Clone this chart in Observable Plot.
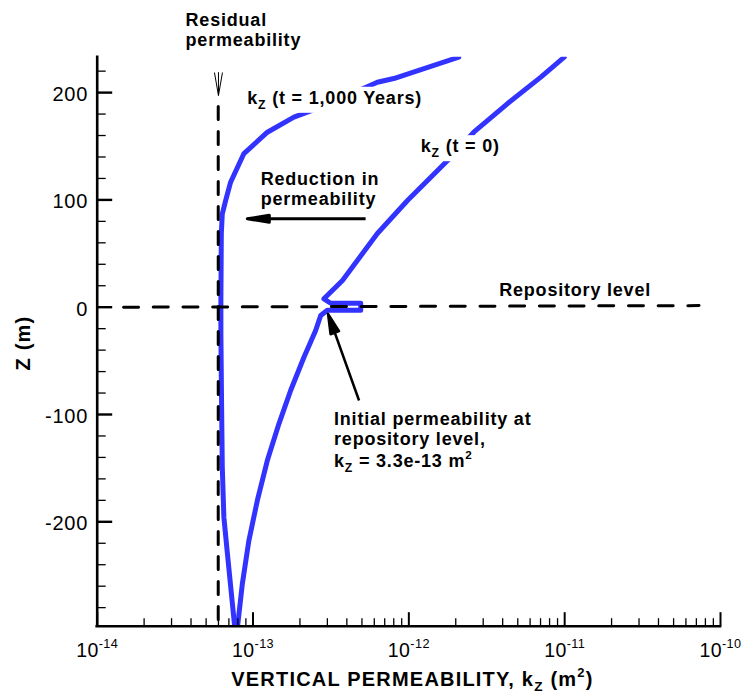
<!DOCTYPE html>
<html><head><meta charset="utf-8">
<script src="https://cdn.jsdelivr.net/npm/d3@7"></script>
<script src="https://cdn.jsdelivr.net/npm/@observablehq/plot@0.6"></script>
<style>
body{margin:0;background:#fff;}
#chart svg{display:block;}
text[aria-label="ann"], text[aria-label="boxed"] {letter-spacing:0.8px;}
text[aria-label="yticklabel"] {letter-spacing:0.8px;}
text[aria-label="xticklabel"] {letter-spacing:0.4px;}
text[aria-label="title"], text[aria-label="ylabel"] {letter-spacing:1.2px;}
</style></head><body><div id="chart"></div>
<script>
// ---- data ----
const xDomain = [1e-14, 1e-10];
const zDomain = [-297.3, 233];

// k_z at t = 0
const kInitial = [7.96e-14, 8.54e-14, 9.41e-14, 1.066e-13, 1.235e-13, 1.466e-13, 1.743e-13, 2.122e-13, 2.523e-13, 2.718e-13, 3.0e-13, 4.91e-13, 4.91e-13, 3.15e-13, 2.85e-13, 3.75e-13, 6.28e-13, 9.8e-13, 1.86e-12, 2.61e-12, 4.3e-12, 7.03e-12, 9.93e-12];
const zInitial = [-297.3, -257.8, -217.4, -180.1, -142.9, -108.7, -77.6, -46.6, -21.7, -7.7, -2.9, -2.9, 3.7, 3.7, 7.8, 24.9, 68.7, 99.4, 139.8, 163.1, 189.8, 214.4, 233];

// k_z at t = 1,000 years
const kFinal = [7.62e-14, 6.84e-14, 6.5e-14, 6.35e-14, 6.28e-14, 6.22e-14, 6.22e-14, 6.26e-14, 6.35e-14, 6.67e-14, 7.18e-14, 8.74e-14, 1.236e-13, 1.83e-13, 2.72e-13, 6.28e-13, 8.0e-13, 2.09e-12];
const zFinal = [-297.3, -228.8, -195.7, -149.1, -87, -24.5, 6.2, 68.7, 87, 99.4, 116.5, 143.2, 163.1, 177.1, 186.4, 209.7, 213.1, 233];

// residual permeability (vertical dashed) and repository level (horizontal dashed)
const residualK = [5.98e-14, 5.98e-14];
const residualZ = [187, -297.3];
const repoK = [1.476e-14, 7.28e-11];
const repoZ = [0, 1.5];

// ticks
const xMajorTicks = [1e-14, 1e-13, 1e-12, 1e-11, 1e-10];
const xTickLabels = ["10^{-14}", "10^{-13}", "10^{-12}", "10^{-11}", "10^{-10}"];
const xMinorTicks = [2e-14,3e-14,4e-14,5e-14,6e-14,7e-14,8e-14,9e-14,
                     2e-13,3e-13,4e-13,5e-13,6e-13,7e-13,8e-13,9e-13,
                     2e-12,3e-12,4e-12,5e-12,6e-12,7e-12,8e-12,9e-12,
                     2e-11,3e-11,4e-11,5e-11,6e-11,7e-11,8e-11,9e-11];
const yMajorTicks = [-200, -100, 0, 100, 200];
const yTickLabels = ["-200", "-100", "0", "100", "200"];
const yMinorTicks = [-280,-260,-240,-220,-180,-160,-140,-120,-80,-60,-40,-20,20,40,60,80,120,140,160,180,220];

// annotation text lines
const annText = ["Residual", "permeability", "Reduction in", "permeability", "Repository level", "Initial permeability at", "repository level,", "k_{Z} = 3.3e-13 m^{2}"];
const annK    = [3.69e-14, 3.69e-14, 1.119e-13, 1.119e-13, 3.80e-12, 3.31e-13, 3.31e-13, 3.31e-13];
const annZ    = [262.5, 243.9, 114.3, 94.8, 10.9, -109.4, -128.5, -148.5];
const boxedText = ["k_{Z} (t = 1,000 Years)", "k_{Z} (t = 0)"];
const boxedK = [9.19e-14, 1.192e-12];
const boxedZ = [189.6, 144.5];

// arrows: tip position, length (px), rotation (deg)
const arrowK = [9.19e-14, 3.03e-13, 6e-14];
const arrowZ = [82.4, -6.2, 197.3];
const arrowLen = [118.3, 92, 23.3];
const arrowRot = [-90, -19.7, 180];

const xTitle = "VERTICAL PERMEABILITY, k_{Z} (m^{2})";
const yTitle = "Z (m)";

// ---- build ----
const W = 743, H = 696;
const blue = "#3333ff";
const font = '"Liberation Sans", Arial, Helvetica, sans-serif';
const rows = (ks, zs) => ks.map((k, i) => ({k, z: zs[i]}));
const tag = (name) => () => name;

const tickShape = {draw(ctx, l) { ctx.moveTo(0, 0); ctx.lineTo(0, -l); }};
function arrowShape(hl, hw, filled) {
  return {draw(ctx, l) {
    if (filled) {
      ctx.moveTo(0, 0); ctx.lineTo(0, -l + hl * 0.7);
      ctx.moveTo(0, -l); ctx.lineTo(-hw, -l + hl); ctx.lineTo(hw, -l + hl); ctx.closePath();
    } else {
      ctx.moveTo(0, 0); ctx.lineTo(0, -l);
      ctx.moveTo(-hw, -l + hl); ctx.lineTo(0, -l); ctx.lineTo(hw, -l + hl);
    }
  }};
}
const arrowStyles = [
  {shape: arrowShape(22, 3.5, true), strokeWidth: 3, fill: "black"},
  {shape: arrowShape(20, 4.5, true), strokeWidth: 2.5, fill: "black"},
  {shape: arrowShape(23, 4, false), strokeWidth: 1, fill: "none"}
];
const arrowMarks = arrowK.map((k, i) => Plot.vector([{k, z: arrowZ[i]}], {
  x: "k", y: "z", length: arrowLen[i], rotate: arrowRot[i], anchor: "end",
  stroke: "black", strokeLinejoin: "round", strokeLinecap: "butt", ...arrowStyles[i]
}));

const y0 = () => zDomain[0];
const x0 = () => xDomain[0];

const chart = Plot.plot({
  width: W, height: H,
  marginLeft: 96.7, marginRight: 23, marginTop: 56.7, marginBottom: 70.3,
  x: {type: "log", domain: xDomain, axis: null},
  y: {domain: zDomain, axis: null},
  style: {background: "white", color: "black", fontFamily: font, overflow: "visible"},
  marks: [
    Plot.line(rows(kInitial, zInitial), {x: "k", y: "z", stroke: blue, strokeWidth: 5, strokeLinejoin: "round", clip: true}),
    Plot.line(rows(kFinal, zFinal), {x: "k", y: "z", stroke: blue, strokeWidth: 5, strokeLinejoin: "round", clip: true}),
    Plot.line(rows(repoK, repoZ), {x: "k", y: "z", stroke: "black", strokeWidth: 3, strokeDasharray: "15,14.7"}),
    Plot.line(rows(residualK, residualZ), {x: "k", y: "z", stroke: "black", strokeWidth: 3, strokeDasharray: "13,12"}),
    // axes lines
    Plot.ruleX([xDomain[0]], {stroke: "black", strokeWidth: 2.6, strokeLinecap: "square"}),
    Plot.ruleY([zDomain[0]], {stroke: "black", strokeWidth: 2.6, strokeLinecap: "square"}),
    // ticks (inward)
    Plot.vector(xMajorTicks, {x: d => d, y: y0, length: 14, rotate: 0, anchor: "start", shape: tickShape, stroke: "black", strokeWidth: 2, strokeLinecap: "butt"}),
    Plot.vector(xMinorTicks, {x: d => d, y: y0, length: 8, rotate: 0, anchor: "start", shape: tickShape, stroke: "black", strokeWidth: 1.3, strokeLinecap: "butt"}),
    Plot.vector(yMajorTicks, {x: x0, y: d => d, length: 15, rotate: 90, anchor: "start", shape: tickShape, stroke: "black", strokeWidth: 2.4, strokeLinecap: "butt"}),
    Plot.vector(yMinorTicks, {x: x0, y: d => d, length: 8.5, rotate: 90, anchor: "start", shape: tickShape, stroke: "black", strokeWidth: 1.3, strokeLinecap: "butt"}),
    // tick labels
    Plot.text(xMajorTicks, {x: d => d, y: y0, text: (d, i) => xTickLabels[i], dy: 30.3, lineAnchor: "bottom", textAnchor: "middle", fontSize: 19.5, fill: "black", ariaLabel: tag("xticklabel")}),
    Plot.text(yMajorTicks, {x: x0, y: d => d, text: (d, i) => yTickLabels[i], dx: -9, dy: 2, textAnchor: "end", lineAnchor: "middle", fontSize: 20, fill: "black", ariaLabel: tag("yticklabel")}),
    // axis titles
    Plot.text([xTitle], {frameAnchor: "bottom", text: d => d, dx: 3.6, dy: 59.3, lineAnchor: "bottom", fontSize: 20, fontWeight: "bold", fill: "black", ariaLabel: tag("title")}),
    Plot.text([yTitle], {frameAnchor: "left", text: d => d, rotate: -90, dx: -73.4, dy: 1.3, lineAnchor: "middle", textAnchor: "middle", fontSize: 20, fontWeight: "bold", fill: "black", ariaLabel: tag("ylabel")}),
    // annotations
    Plot.text(annText, {x: (d, i) => annK[i], y: (d, i) => annZ[i], text: d => d, textAnchor: "start", lineAnchor: "bottom", fontSize: 18, fontWeight: "bold", fill: "black", ariaLabel: tag("ann")}),
    Plot.text(boxedText, {x: (d, i) => boxedK[i], y: (d, i) => boxedZ[i], text: d => d, textAnchor: "start", lineAnchor: "bottom", fontSize: 18, fontWeight: "bold", fill: "black", ariaLabel: tag("boxed")}),
    ...arrowMarks
  ]
});
document.getElementById("chart").append(chart);

// ---- rich text: subscripts / superscripts ----
const NS = "http://www.w3.org/2000/svg";
function richify(el) {
  const s = el.textContent;
  if (!/[_^]\{/.test(s)) return;
  const F = parseFloat(getComputedStyle(el).fontSize);
  const parts = s.split(/([_^]\{[^}]*\})/).filter(p => p !== "");
  while (el.firstChild) el.removeChild(el.firstChild);
  let shift = 0;
  for (const p of parts) {
    const t = document.createElementNS(NS, "tspan");
    let target = 0, content = p, size = null;
    if (p.startsWith("_{")) { target = 0.28 * F; content = p.slice(2, -1); size = 0.68 * F; }
    else if (p.startsWith("^{")) { target = -0.42 * F; content = p.slice(2, -1); size = 0.65 * F; }
    const dy = target - shift;
    if (dy) t.setAttribute("dy", dy.toFixed(2));
    shift = target;
    if (size) t.setAttribute("font-size", size.toFixed(2));
    t.textContent = content;
    el.appendChild(t);
  }
}
chart.querySelectorAll("text").forEach(richify);

// white boxes behind curve labels
chart.querySelectorAll('text[aria-label="boxed"]').forEach(t => {
  const b = t.getBBox();
  const r = document.createElementNS(NS, "rect");
  r.setAttribute("x", b.x - 3);
  r.setAttribute("y", b.y - 1);
  r.setAttribute("width", b.width + 5);
  r.setAttribute("height", b.height + 2);
  r.setAttribute("fill", "white");
  r.setAttribute("stroke", "none");
  const tr = t.getAttribute("transform");
  if (tr) r.setAttribute("transform", tr);
  t.parentNode.insertBefore(r, t);
});
</script></body></html>
